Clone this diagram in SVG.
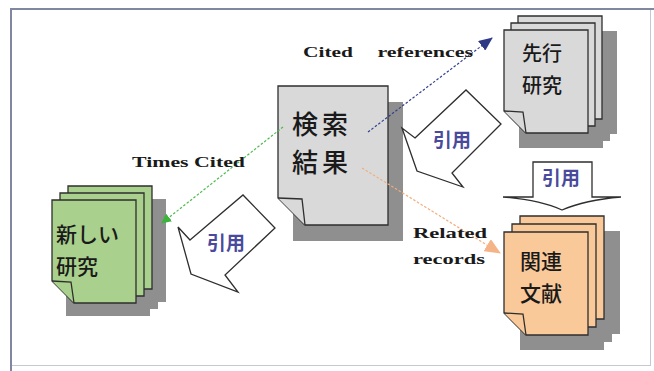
<svg xmlns="http://www.w3.org/2000/svg" width="654" height="371" viewBox="0 0 654 371">
<style>
.pg{stroke:#2e2e2e;stroke-width:1.3;stroke-linejoin:miter}
.gray{fill:#d9d9d9}
.green{fill:#a9d08c}
.orange{fill:#f9c99a}
.shadow{fill:#8f8f8f}
.jp{font-family:"Noto Sans CJK JP","Noto Sans CJK SC",sans-serif;fill:#1a1a1a;font-weight:500}
.en{font-family:"Liberation Serif",serif;font-weight:bold;font-size:15px;fill:#1a1a1a}
.cite{fill:#fff;stroke:#2e2e2e;stroke-width:1.3;stroke-linejoin:miter}
.ctxt{font-family:"Noto Sans CJK JP","Noto Sans CJK SC",sans-serif;font-weight:bold;font-size:19px;fill:#4a4a9c;text-anchor:middle}
.conn{fill:none;stroke-width:1.2;stroke-dasharray:2.5 1.8}
</style>
<defs>
<g id="page">
<path class="pg" d="M0,0 H84 V103 H22 L0,81 Z"/>
<path class="pg" d="M0,81 L19,82 L22,103"/>
</g>
<path id="pageShadow" d="M0,0 H84 V103 H0 Z"/>
<marker id="mBlue" markerUnits="userSpaceOnUse" markerWidth="14" markerHeight="12" viewBox="0 0 14 12" refX="13" refY="6" orient="auto"><path d="M0,0 L14,6 L0,12 Z" fill="#2f3a86"/></marker>
<marker id="mGreen" markerUnits="userSpaceOnUse" markerWidth="10" markerHeight="10" viewBox="0 0 10 10" refX="9" refY="5" orient="auto"><path d="M0,0 L10,5 L0,10 Z" fill="#3cb43c"/></marker>
<marker id="mOrange" markerUnits="userSpaceOnUse" markerWidth="16" markerHeight="14" viewBox="0 0 16 14" refX="15" refY="7" orient="auto"><path d="M0,0 L16,7 L0,14 Z" fill="#f5b487"/></marker>
</defs>

<rect x="0" y="0" width="654" height="371" fill="#fff"/>
<g id="frame">
<rect x="10.5" y="9.5" width="640" height="356" fill="none" stroke="#c4c8d4" stroke-width="1"/>
<path d="M11,371 V9 H654" fill="none" stroke="#80879f" stroke-width="2"/>
</g>

<g id="prior">
<use href="#pageShadow" class="shadow" x="533" y="31"/>
<use href="#pageShadow" class="shadow" x="526" y="38"/>
<use href="#pageShadow" class="shadow" x="519" y="45"/>
<use href="#page" class="gray" x="518" y="16"/>
<use href="#page" class="gray" x="511" y="23"/>
<use href="#page" class="gray" x="504" y="30"/>
<text class="jp" font-size="20"><tspan x="522" y="61">先行</tspan><tspan x="522" y="93">研究</tspan></text>
</g>

<g id="new">
<use href="#pageShadow" class="shadow" x="82" y="199"/>
<use href="#pageShadow" class="shadow" x="74" y="206"/>
<use href="#pageShadow" class="shadow" x="66" y="213"/>
<use href="#page" class="green" x="68" y="186"/>
<use href="#page" class="green" x="60" y="193"/>
<use href="#page" class="green" x="52" y="200"/>
<text class="jp" font-size="21"><tspan x="56" y="242">新しい</tspan><tspan x="56" y="274">研究</tspan></text>
</g>

<g id="related">
<use href="#pageShadow" class="shadow" x="536" y="231"/>
<use href="#pageShadow" class="shadow" x="528" y="239"/>
<use href="#pageShadow" class="shadow" x="520" y="247"/>
<use href="#page" class="orange" x="520" y="216"/>
<use href="#page" class="orange" x="512" y="224"/>
<use href="#page" class="orange" x="504" y="232"/>
<text class="jp" font-size="21"><tspan x="520" y="269">関連</tspan><tspan x="520" y="301">文献</tspan></text>
</g>

<g id="result">
<rect class="shadow" x="293" y="102" width="110" height="139"/>
<path class="pg gray" d="M278,86 H388 V225 H305 L278,198 Z"/>
<path class="pg gray" d="M278,198 L302,199 L305,225"/>
<text class="jp" font-size="26" letter-spacing="4"><tspan x="292" y="134">検索</tspan><tspan x="292" y="172">結果</tspan></text>
</g>

<g id="cite-left">
<path class="cite" d="M190,240 L243,195 L275,228 L225,275 L238,292 L191,274 L178,227 Z"/>
<text class="ctxt" x="226" y="250">引用</text>
</g>
<g id="cite-upper">
<path class="cite" d="M415,138 L466,90 L501,124 L452,173 L463,187 L417,171 L402,128 Z"/>
<text class="ctxt" x="452" y="147">引用</text>
</g>
<g id="cite-down">
<path class="cite" d="M533,162 H592 V197 H621 Q585,200 562,210 Q540,200 503,197 H533 Z"/>
<text class="ctxt" x="561" y="185">引用</text>
</g>

<g id="connectors">
<line class="conn" x1="368" y1="132" x2="492" y2="38" stroke="#34408c" marker-end="url(#mBlue)"/>
<line class="conn" x1="283" y1="127" x2="162" y2="223" stroke="#4cbb4c" marker-end="url(#mGreen)"/>
<line class="conn" x1="362" y1="168" x2="500" y2="253" stroke="#f4ad7c" marker-end="url(#mOrange)"/>
</g>

<g id="labels">
<text class="en" y="57"><tspan x="303" textLength="50" lengthAdjust="spacingAndGlyphs">Cited</tspan><tspan x="372" textLength="101" lengthAdjust="spacingAndGlyphs"> references</tspan></text>
<text class="en" x="132" y="167" textLength="113" lengthAdjust="spacingAndGlyphs">Times Cited</text>
<text class="en" x="413" y="238" textLength="74" lengthAdjust="spacingAndGlyphs">Related</text>
<text class="en" x="413" y="264" textLength="72" lengthAdjust="spacingAndGlyphs">records</text>
</g>
</svg>
